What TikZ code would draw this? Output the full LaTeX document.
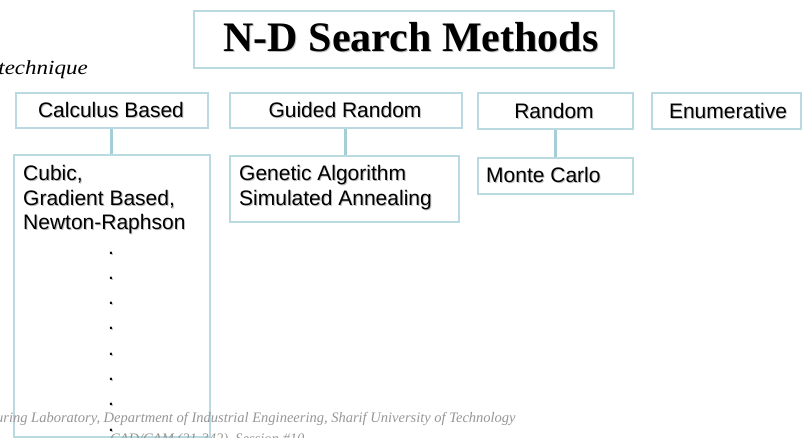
\documentclass[tikz,border=0pt]{standalone}
\usepackage{fontspec}
\setmainfont{Liberation Sans}
\newfontfamily\serifnd{Liberation Serif}
\usetikzlibrary{shadows}
\definecolor{bordc}{RGB}{185,218,224}
\definecolor{linec}{RGB}{165,206,214}
\definecolor{footc}{RGB}{150,150,150}
\newcommand\shd[1]{\makebox[0pt][l]{\hspace{1pt}\raisebox{-1pt}{\textcolor{black!25}{#1}}}#1}
\begin{document}
\begin{tikzpicture}[x=1pt,y=-1pt,
  box/.style={draw=bordc, line width=1.5pt, fill=white, inner sep=0pt, anchor=north west,
    drop shadow={shadow xshift=1.5pt,shadow yshift=-1.5pt,opacity=0.2,fill=black}},
  lbl/.style={inner sep=0pt, anchor=base, font=\fontsize{21}{24.5}\selectfont},
  lbll/.style={lbl, anchor=base west},
  conn/.style={draw=linec, line width=3pt},
  foot/.style={inner sep=0pt, anchor=base west, text=footc, font=\serifnd\itshape\fontsize{14.5}{17}\selectfont}]
\useasboundingbox (0,0) rectangle (802,437);
% boxes
\node[box, minimum width=420pt, minimum height=57pt] (title) at (193,10) {};
\node[box, minimum width=192pt, minimum height=35pt] (calc) at (15,92) {};
\node[box, minimum width=232pt, minimum height=35pt] (grand) at (229,92) {};
\node[box, minimum width=155pt, minimum height=36pt] (rand) at (477,92) {};
\node[box, minimum width=149pt, minimum height=36pt] (enum) at (651,92) {};
\node[box, minimum width=196pt, minimum height=282pt] (cubic) at (13,154) {};
\node[box, minimum width=229pt, minimum height=66pt] (ga) at (229,155) {};
\node[box, minimum width=155pt, minimum height=36pt] (mc) at (477,157) {};
% connectors
\draw[conn] (calc.south) -- (calc.south |- cubic.north);
\draw[conn] (grand.south) -- (grand.south |- ga.north);
\draw[conn] (rand.south) -- (rand.south |- mc.north);
% texts
\node[inner sep=0pt, anchor=base, font=\serifnd\bfseries\fontsize{42}{46}\selectfont] (titletext) at (411,51) {\shd{N-D Search Methods}};
\node[inner sep=0pt, anchor=base east, font=\serifnd\itshape\fontsize{20}{24}\selectfont, xscale=1.15] (tech) at (88,74) {technique};
\node[lbl] (calctext) at (111,117) {\shd{Calculus Based}};
\node[lbl] (grandtext) at (345,117) {\shd{Guided Random}};
\node[lbl] (randtext) at (554,118) {\shd{Random}};
\node[lbl] (enumtext) at (728,118) {\shd{Enumerative}};
\node[lbll] (c1) at (23,180) {\shd{Cubic,}};
\node[lbll] (c2) at (23,205) {\shd{Gradient Based,}};
\node[lbll] (c3) at (23,229) {\shd{Newton-Raphson}};
\node[lbll] (g1) at (239,180) {\shd{Genetic Algorithm}};
\node[lbll] (g2) at (239,205) {\shd{Simulated Annealing}};
\node[lbll] (m1) at (486,182) {\shd{Monte Carlo}};
\foreach \i in {0,...,7}{
  \node[lbl] (dot\i) at (111,{254+25.3*\i}) {\shd{.}};
}
% footer
\node[foot] (foot1) at (-4,422) {uring Laboratory, Department of Industrial Engineering, Sharif University of Technology};
\node[foot] (foot2) at (110,443) {CAD/CAM (21-342), Session \#10};
\end{tikzpicture}
\end{document}
